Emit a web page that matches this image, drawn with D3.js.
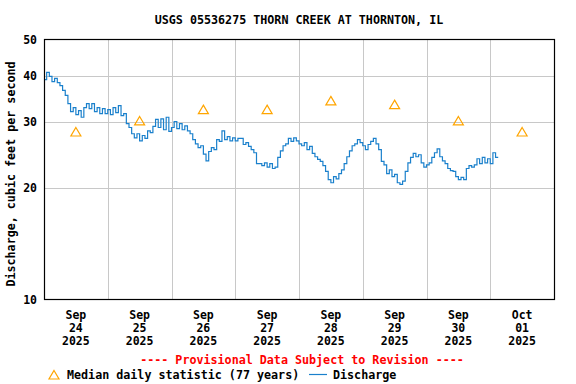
<!DOCTYPE html>
<html>
<head>
<meta charset="utf-8">
<script src="https://cdn.jsdelivr.net/npm/d3@7"></script>
<style>
  html, body { margin: 0; padding: 0; background: #fff; }
  svg { display: block; }
  text { font-family: "DejaVu Sans Mono", "Liberation Mono", monospace; font-weight: bold; }
</style>
</head>
<body>
<svg id="chart" width="576" height="384"></svg>
<script>
// ---------------- DATA ----------------
const title = "USGS 05536275 THORN CREEK AT THORNTON, IL";
const yLabel = "Discharge, cubic feet per second";
const provisional = "---- Provisional Data Subject to Revision ----";
const legendMedian = "Median daily statistic (77 years)";
const legendDischarge = "Discharge";

// hourly discharge (cfs), starting 2025-09-24 00:00
const dischargeStart = "2025-09-24T00:00:00Z";
const dischargeStepHours = 1;
const discharge = [
  // Sep 24
  39.0, 40.8, 39.8, 38.5, 39.3, 38.3, 37.6, 36.5, 35.4, 33.6, 32.0, 32.8,
  31.4, 32.2, 30.9, 32.8, 33.6, 32.6, 33.6, 32.0, 32.8, 31.6, 32.6, 31.6,
  // Sep 25
  32.4, 31.4, 32.8, 31.8, 33.2, 31.2, 31.6, 29.7, 29.0, 27.9, 27.2, 27.9,
  26.7, 27.6, 27.1, 28.4, 28.1, 29.2, 30.5, 29.0, 30.6, 28.6, 30.9, 28.3,
  // Sep 26
  29.0, 30.1, 28.8, 29.7, 28.6, 29.3, 28.4, 27.9, 26.9, 26.2, 25.6, 25.9,
  24.6, 23.6, 25.0, 25.6, 25.3, 26.9, 26.6, 28.4, 26.9, 27.4, 26.7, 27.2,
  // Sep 27
  26.7, 27.1, 27.1, 26.1, 26.4, 25.8, 25.3, 24.8, 23.2, 23.2, 22.9, 23.3,
  22.7, 23.2, 22.5, 22.7, 24.1, 25.1, 25.9, 26.2, 27.1, 26.6, 27.2, 26.7,
  // Sep 28
  26.2, 25.9, 26.4, 25.3, 25.8, 24.7, 24.2, 23.8, 23.5, 22.9, 22.1, 21.0,
  20.6, 21.4, 21.1, 21.8, 22.3, 23.2, 24.2, 25.1, 25.9, 26.2, 26.9, 26.4,
  // Sep 29
  25.9, 25.3, 26.1, 26.6, 27.1, 26.2, 25.3, 23.5, 23.0, 21.8, 22.3, 21.4,
  21.7, 20.6, 20.4, 20.8, 22.1, 23.3, 24.1, 24.7, 24.2, 24.5, 23.3, 22.7,
  // Sep 30
  23.0, 23.3, 24.1, 24.8, 25.4, 24.2, 23.6, 23.2, 22.5, 22.2, 22.1, 21.4,
  21.0, 21.3, 21.0, 22.5, 22.9, 22.7, 23.0, 23.9, 23.2, 24.1, 23.3, 23.9,
  // Oct 01
  23.2, 24.8, 24.1, 24.1
];

// median daily statistic (plotted at noon of each day)
const medianDates = ["2025-09-24", "2025-09-25", "2025-09-26", "2025-09-27",
                     "2025-09-28", "2025-09-29", "2025-09-30", "2025-10-01"];
const medianValues = [28.2, 30.2, 32.4, 32.4, 34.2, 33.4, 30.2, 28.2];

// x tick labels (at noon of each day)
const tickMonths = ["Sep", "Sep", "Sep", "Sep", "Sep", "Sep", "Sep", "Oct"];
const tickDays   = ["24", "25", "26", "27", "28", "29", "30", "01"];
const tickYears  = ["2025", "2025", "2025", "2025", "2025", "2025", "2025", "2025"];

const yTicks = [10, 20, 30, 40, 50];
const yGrid = [20, 30, 40];

// ---------------- CHART ----------------
const svg = d3.select("#chart");
const L = 44, R = 554, T = 39.5, B = 299.5;

const x = d3.scaleUtc()
  .domain([new Date("2025-09-24T00:00:00Z"), new Date("2025-10-02T00:00:00Z")])
  .range([L, R]);
const y = d3.scaleLog().domain([10, 50]).range([B, T]);

const t0 = new Date(dischargeStart).getTime();
const series = discharge.map((v, i) => ({ t: new Date(t0 + i * dischargeStepHours * 3600e3), v }));
const medians = medianDates.map((d, i) => ({ t: new Date(d + "T12:00:00Z"), v: medianValues[i] }));

// grid
const grid = svg.append("g").attr("stroke", "#c8c8c8").attr("stroke-width", 1);
grid.selectAll("line.h").data(yGrid).join("line")
  .attr("x1", L).attr("x2", R)
  .attr("y1", d => Math.round(y(d)) + 0.5).attr("y2", d => Math.round(y(d)) + 0.5);
const midnights = d3.utcDay.range(new Date("2025-09-25T00:00:00Z"), new Date("2025-10-02T00:00:00Z"));
grid.selectAll("line.v").data(midnights).join("line")
  .attr("x1", d => Math.round(x(d)) + 0.5).attr("x2", d => Math.round(x(d)) + 0.5)
  .attr("y1", T).attr("y2", B);

// discharge line
const line = d3.line().x(d => x(d.t)).y(d => y(d.v)).curve(d3.curveStepAfter);
svg.append("path").datum(series)
  .attr("d", line)
  .attr("fill", "none")
  .attr("stroke", "#1a80cc")
  .attr("stroke-width", 1.2);

// median triangles
const tri = "M0,-4.5 L5,4 L-5,4 Z";
svg.selectAll("path.med").data(medians).join("path")
  .attr("class", "med")
  .attr("d", tri)
  .attr("transform", d => `translate(${x(d.t)},${y(d.v)})`)
  .attr("fill", "none")
  .attr("stroke", "#ffa500")
  .attr("stroke-width", 1.2);

// frame
svg.append("rect")
  .attr("x", L + 0.5).attr("y", T).attr("width", R - L).attr("height", B - T)
  .attr("fill", "none").attr("stroke", "#000").attr("stroke-width", 1.2);

// y axis
const yAxis = d3.axisLeft(y).tickValues(yTicks).tickSize(0).tickPadding(7).tickFormat(d3.format("d"));
const ya = svg.append("g").attr("transform", `translate(${L},0)`).call(yAxis);
ya.select(".domain").remove();
ya.selectAll("text").attr("font-size", 11.5).attr("font-family", null).attr("fill", "#000");

// x labels
const xl = svg.append("g").attr("font-size", 11.5).attr("text-anchor", "middle").attr("fill", "#000");
medians.forEach((d, i) => {
  const cx = x(d.t);
  xl.append("text").attr("x", cx).attr("y", 319).text(tickMonths[i]);
  xl.append("text").attr("x", cx).attr("y", 332).text(tickDays[i]);
  xl.append("text").attr("x", cx).attr("y", 345).text(tickYears[i]);
});

// title
svg.append("text").attr("x", 299).attr("y", 24).attr("text-anchor", "middle")
  .attr("font-size", 11.7).text(title);

// y label
svg.append("text")
  .attr("transform", "translate(15,174) rotate(-90)")
  .attr("text-anchor", "middle").attr("font-size", 11.7).text(yLabel);

// provisional
svg.append("text").attr("x", 302).attr("y", 364).attr("text-anchor", "middle")
  .attr("font-size", 11.7).attr("fill", "#ff0000").text(provisional);

// legend
svg.append("path").attr("d", tri).attr("transform", "translate(54,375)")
  .attr("fill", "none").attr("stroke", "#ffa500").attr("stroke-width", 1.2);
svg.append("text").attr("x", 67).attr("y", 379).attr("font-size", 11.7).text(legendMedian);
svg.append("line").attr("x1", 309).attr("x2", 327).attr("y1", 374.5).attr("y2", 374.5)
  .attr("stroke", "#1a80cc").attr("stroke-width", 1.2);
svg.append("text").attr("x", 333).attr("y", 379).attr("font-size", 11.7).text(legendDischarge);
</script>
</body>
</html>
